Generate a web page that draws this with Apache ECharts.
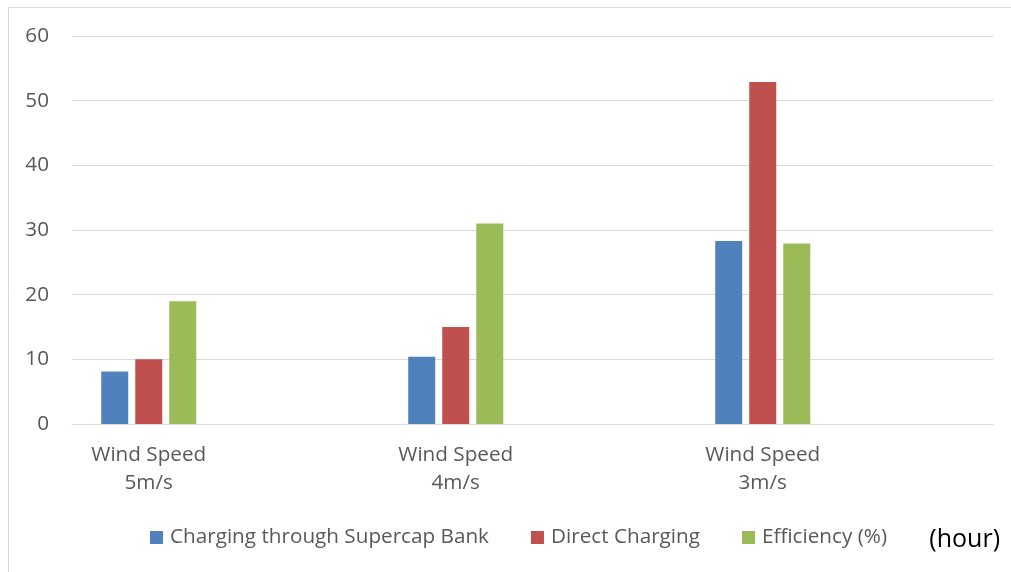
<!DOCTYPE html>
<html>
<head>
<meta charset="utf-8">
<script src="https://cdn.jsdelivr.net/npm/echarts@6/dist/echarts.min.js"></script>
<style>html,body{margin:0;padding:0;background:#fff}#c{width:1011px;height:572px}</style>
</head>
<body>
<div id="c"></div>
<script>
const categories = ['Wind Speed\n5m/s', 'Wind Speed\n4m/s', 'Wind Speed\n3m/s'];
const supercap = [8.1, 10.4, 28.3];
const direct = [10.0, 15.0, 52.9];
const efficiency = [19.0, 31.0, 27.9];
const yTicks = [0, 10, 20, 30, 40, 50, 60];

// each category is followed by an empty spacer slot (the source plot area is wider than the groups)
const spaced = arr => arr.flatMap(v => [v, null]);
const xData = categories.flatMap(c => [c, '']);

const FONT = 'Open Sans';
const FS = 20.7;
const chart = echarts.init(document.getElementById('c'), null, {renderer: 'canvas'});
chart.setOption({
  animation: false,
  backgroundColor: '#fff',
  textStyle: {fontFamily: FONT},
  grid: {left: 72, right: 18, top: 36, bottom: 148, containLabel: false},
  graphic: [
    {type: 'rect', shape: {x: 8.5, y: 7.5, width: 1100, height: 700}, style: {fill: 'none', stroke: '#d9d9d9', lineWidth: 1}, silent: true},
    {type: 'text', right: 11, top: 527, style: {text: '(hour)', fontFamily: FONT, fontSize: 25, fill: '#000'}}
  ],
  legend: {
    left: 145, top: 522, icon: 'rect', itemWidth: 13, itemHeight: 13, itemGap: 42,
    textStyle: {fontFamily: FONT, fontSize: FS, color: '#595959', padding: [0, 0, 0, 2]},
    data: ['Charging through Supercap Bank', 'Direct Charging', 'Efficiency (%)']
  },
  xAxis: {
    type: 'category', data: xData,
    axisLine: {lineStyle: {color: '#d9d9d9', width: 1}},
    axisTick: {show: false},
    axisLabel: {interval: 0, color: '#595959', fontSize: FS, lineHeight: 28, margin: 17, fontFamily: FONT}
  },
  yAxis: {
    type: 'value', min: 0, max: 60, interval: 10,
    axisLine: {show: false}, axisTick: {show: false},
    splitLine: {lineStyle: {color: '#d9d9d9', width: 1}},
    axisLabel: {color: '#595959', fontSize: FS, margin: 23, fontFamily: FONT,
      formatter: v => yTicks.includes(v) ? String(v) : ''}
  },
  series: [
    {name: 'Charging through Supercap Bank', type: 'bar', data: spaced(supercap), barWidth: 27, barGap: '26%', itemStyle: {color: '#4f81bd'}},
    {name: 'Direct Charging', type: 'bar', data: spaced(direct), barWidth: 27, barGap: '26%', itemStyle: {color: '#c0504d'}},
    {name: 'Efficiency (%)', type: 'bar', data: spaced(efficiency), barWidth: 27, barGap: '26%', itemStyle: {color: '#9bbb59'}}
  ]
});
</script>
</body>
</html>
